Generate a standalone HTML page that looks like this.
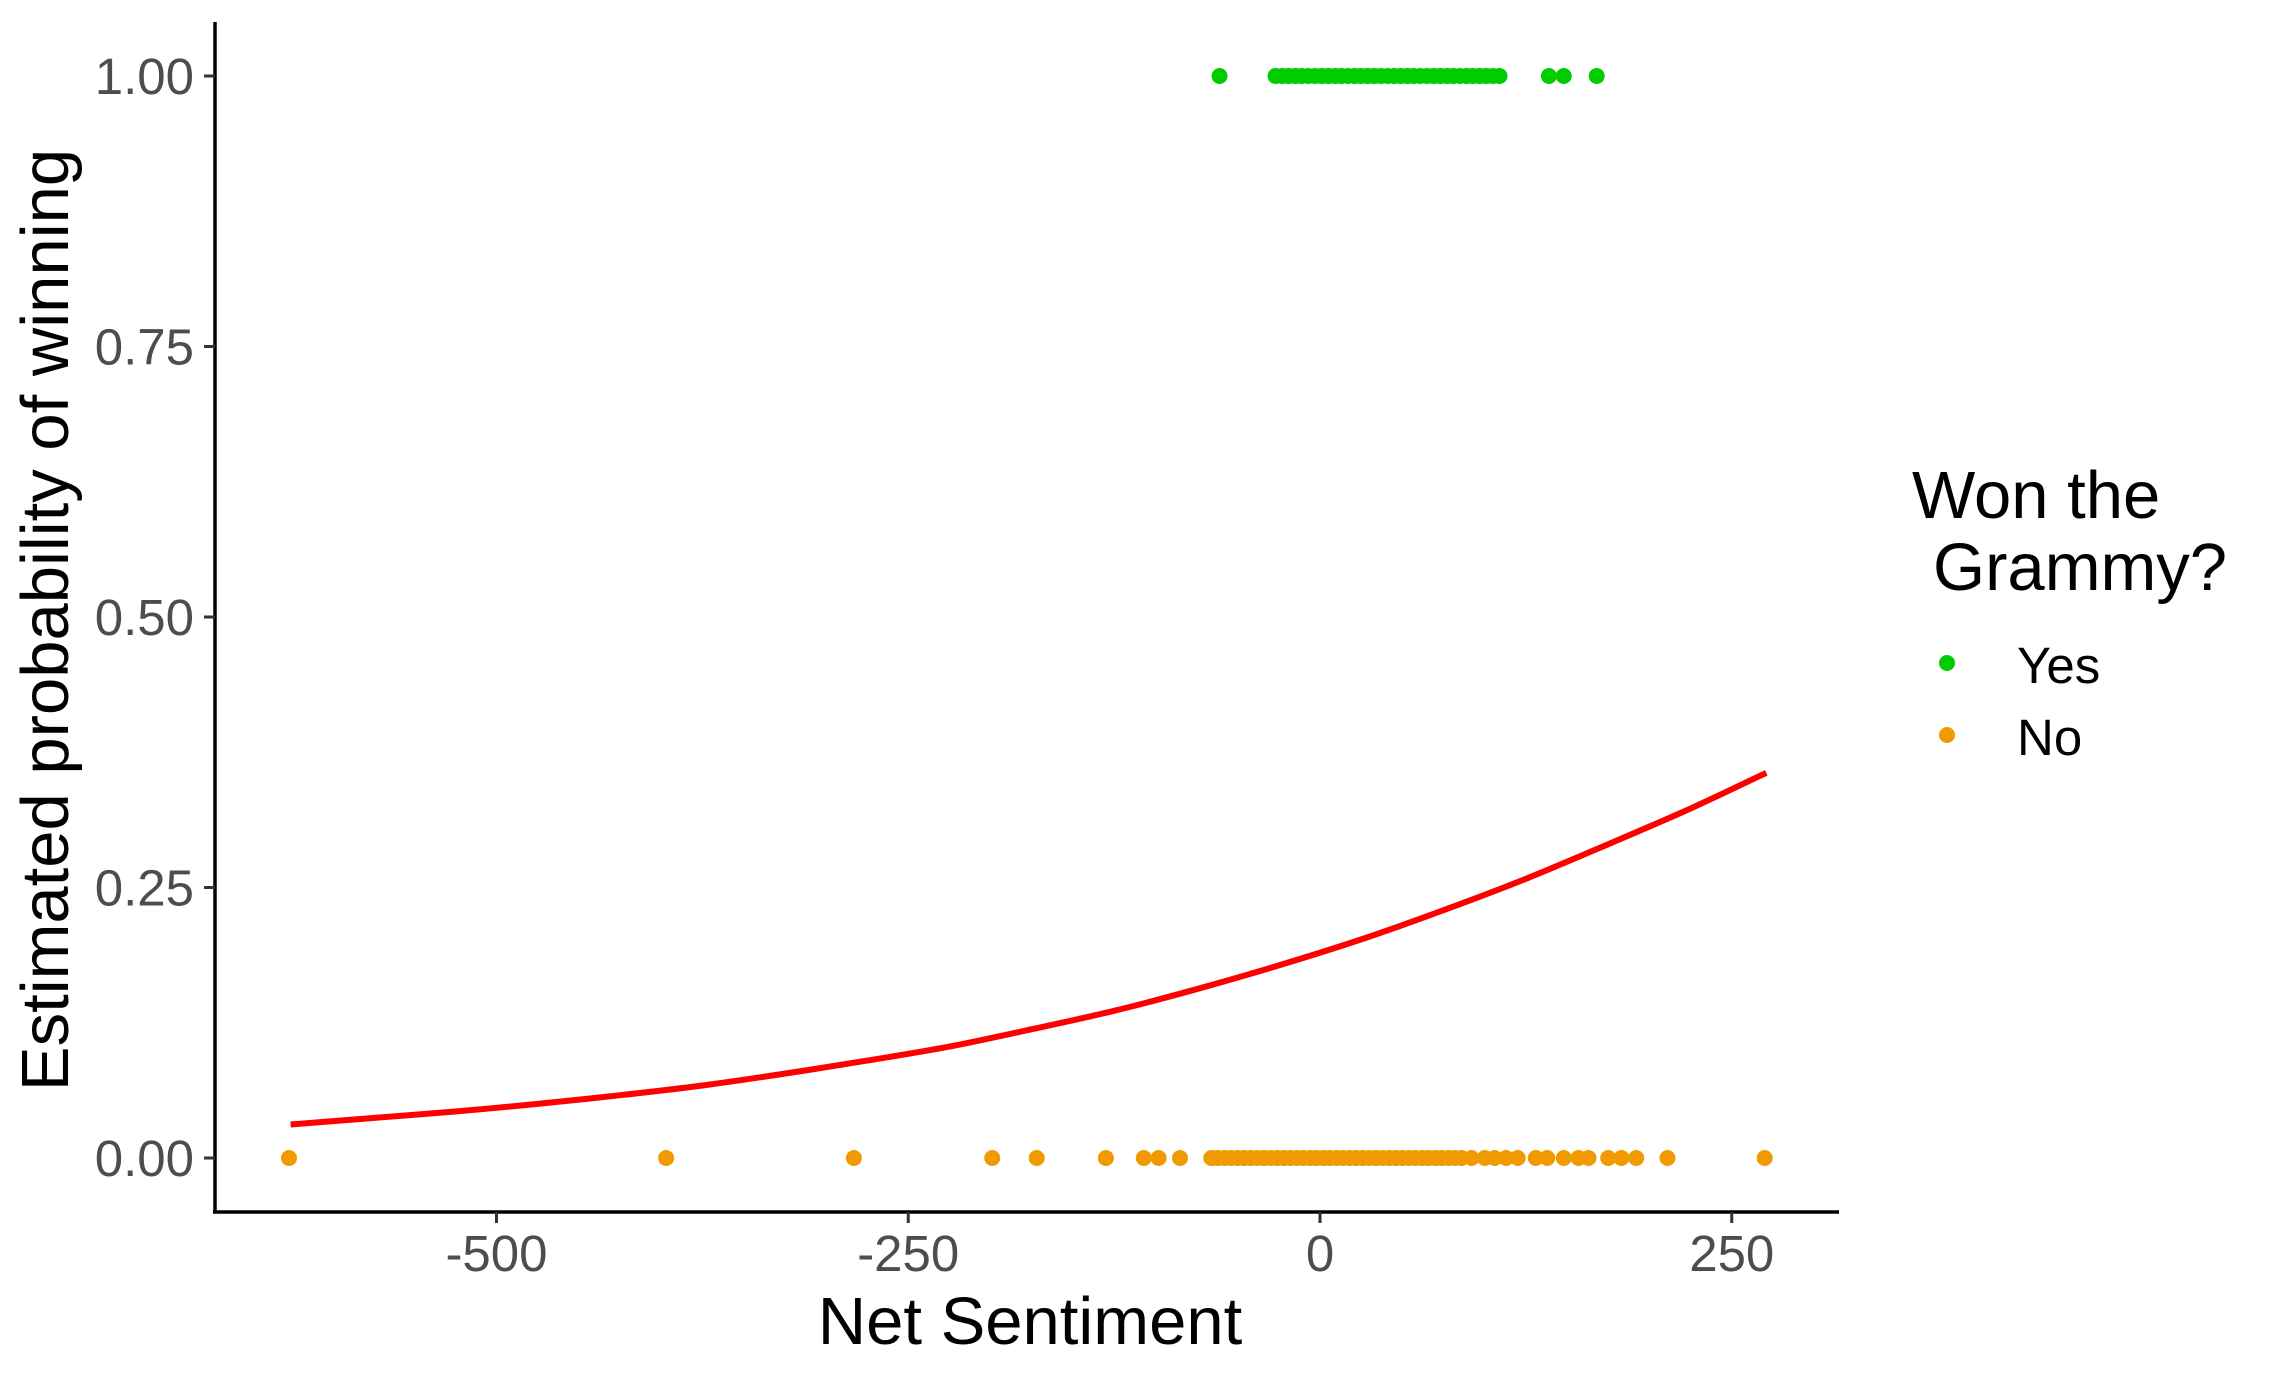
<!DOCTYPE html>
<html><head><meta charset="utf-8">
<style>
html,body{margin:0;padding:0;background:#fff;}
svg{display:block;font-family:"Liberation Sans",Arial,sans-serif;}
</style></head>
<body>
<svg id="chart" width="2271" height="1375" viewBox="0 0 2271 1375" xmlns="http://www.w3.org/2000/svg">
<g id="marks"></g>
<g id="axes"></g>
<text x="1030" y="1344" font-size="67" text-anchor="middle" fill="#000">Net Sentiment</text>
<text transform="translate(68,620) rotate(-90)" font-size="67" text-anchor="middle" fill="#000">Estimated probability of winning</text>
<g>
<text x="1912" y="518" font-size="67" fill="#000">Won the</text>
<text x="1933" y="590" font-size="67" fill="#000">Grammy?</text>
<circle cx="1947" cy="663" r="8" fill="#00CC00"/>
<text x="2017" y="683" font-size="51" fill="#000">Yes</text>
<circle cx="1947" cy="735" r="8" fill="#F09A00"/>
<text x="2017" y="755" font-size="51" fill="#000">No</text>
</g>
</svg>
<script>
const yesValues = [-61,-27,-23,-19,-15,-11,-7,-3,1,5,9,13,17,21,25,29,33,37,41,45,49,53,57,61,65,69,73,77,81,85,89,93,97,101,105,109,139,148,168];
const noValues = [-626,-397,-283,-199,-172,-130,-107,-98,-85,-66,-62,-58,-54,-50,-46,-42,-38,-34,-30,-26,-22,-18,-14,-10,-6,-2,2,6,10,14,18,22,26,30,34,38,42,46,50,54,58,62,66,70,74,78,82,86,92,100,106,113,120,131,138,148,157,163,175,183,192,211,270];
const curveX = [-625,-575,-525,-475,-425,-375,-325,-275,-225,-175,-125,-75,-25,25,75,125,175,225,271];
const curveP = [0.031,0.037,0.043,0.050,0.058,0.067,0.078,0.090,0.103,0.119,0.136,0.156,0.178,0.202,0.229,0.258,0.290,0.323,0.356];
const xTicks = [-500,-250,0,250];
const xTickLabels = ["-500","-250","0","250"];
const yTicks = [0,0.25,0.5,0.75,1];
const yTickLabels = ["0.00","0.25","0.50","0.75","1.00"];

const NS = "http://www.w3.org/2000/svg";
function xs(v){ return 1320 + v * 1.647; }
function ys(p){ return 1158 - p * 1082; }
const marks = document.getElementById('marks');
const axes = document.getElementById('axes');
function mk(tag, attrs, parent){
  const e = document.createElementNS(NS, tag);
  for (const k in attrs) e.setAttribute(k, attrs[k]);
  parent.appendChild(e);
  return e;
}
// curve (smooth via Catmull-Rom)
const pts = curveX.map((x,i)=>[xs(x), ys(curveP[i])]);
let d = "M" + pts[0][0].toFixed(1) + "," + pts[0][1].toFixed(1);
for (let i=0;i<pts.length-1;i++){
  const p0 = pts[Math.max(0,i-1)], p1 = pts[i], p2 = pts[i+1], p3 = pts[Math.min(pts.length-1,i+2)];
  const c1 = [p1[0]+(p2[0]-p0[0])/6, p1[1]+(p2[1]-p0[1])/6];
  const c2 = [p2[0]-(p3[0]-p1[0])/6, p2[1]-(p3[1]-p1[1])/6];
  d += "C" + c1[0].toFixed(1)+","+c1[1].toFixed(1)+" "+c2[0].toFixed(1)+","+c2[1].toFixed(1)+" "+p2[0].toFixed(1)+","+p2[1].toFixed(1);
}
const path = mk('path', {d:d, fill:'none', stroke:'#FF0000', 'stroke-width':6, 'stroke-linejoin':'round'}, marks);


// points
yesValues.forEach(v=>{
  const c = mk('circle', {cx:xs(v), cy:ys(1), r:8, fill:'#00CC00'}, marks);
  
  
});
noValues.forEach(v=>{
  const c = mk('circle', {cx:xs(v), cy:ys(0), r:8, fill:'#F09A00'}, marks);
  
  
});
// axis lines
const yl = mk('line', {x1:215, y1:22, x2:215, y2:1213, stroke:'#000', 'stroke-width':3.5}, axes);


const xl = mk('line', {x1:213, y1:1212, x2:1839, y2:1212, stroke:'#000', 'stroke-width':3.5}, axes);


xTicks.forEach((t,i)=>{
  const tk = mk('line', {x1:xs(t), y1:1212, x2:xs(t), y2:1223, stroke:'#333', 'stroke-width':3}, axes);
  
  
  const lb = mk('text', {x:xs(t), y:1271, 'font-size':51, 'text-anchor':'middle', fill:'#4D4D4D'}, axes);
  lb.textContent = xTickLabels[i];
  
  
});
yTicks.forEach((t,i)=>{
  const tk = mk('line', {x1:204, y1:ys(t), x2:215, y2:ys(t), stroke:'#333', 'stroke-width':3}, axes);
  
  
  const lb = mk('text', {x:194, y:ys(t)+18, 'font-size':51, 'text-anchor':'end', fill:'#4D4D4D'}, axes);
  lb.textContent = yTickLabels[i];
  
  
});
</script>
</body></html>
